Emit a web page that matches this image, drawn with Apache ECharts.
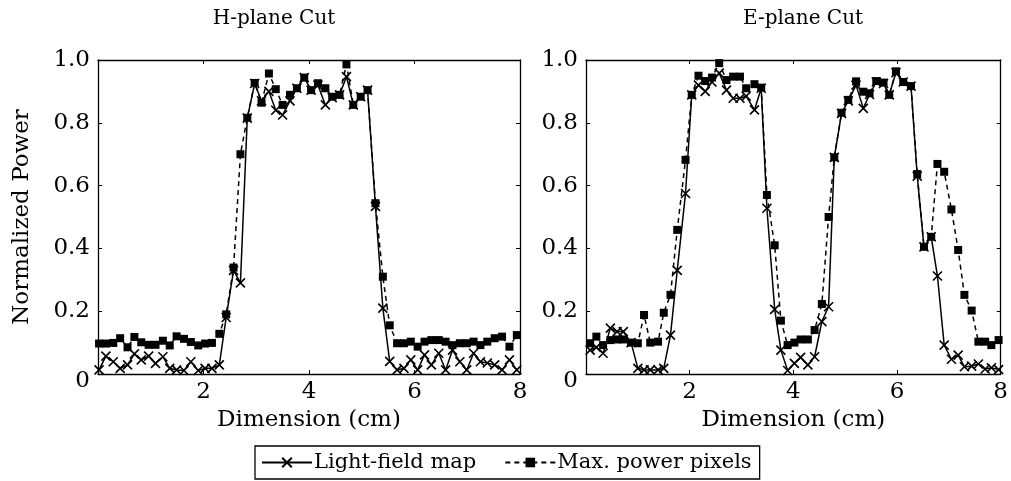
<!DOCTYPE html>
<html>
<head>
<meta charset="utf-8">
<script src="https://cdn.jsdelivr.net/npm/echarts@6/dist/echarts.min.js"></script>
<style>
  html, body { margin: 0; padding: 0; background: #fff; }
  #chart { width: 1011px; height: 481px; }
</style>
</head>
<body>
<div id="chart"></div>
<script>
// Sample positions along the cut (cm)
const hPlaneX = [0.02, 0.15, 0.29, 0.42, 0.56, 0.69, 0.82, 0.96, 1.09, 1.23,
  1.36, 1.49, 1.63, 1.76, 1.90, 2.03, 2.16, 2.30, 2.43, 2.57,
  2.70, 2.83, 2.97, 3.10, 3.24, 3.37, 3.50, 3.64, 3.77, 3.91,
  4.04, 4.17, 4.31, 4.44, 4.58, 4.71, 4.84, 4.98, 5.11, 5.26,
  5.40, 5.53, 5.67, 5.80, 5.93, 6.06, 6.19, 6.32, 6.46, 6.59,
  6.72, 6.86, 6.99, 7.12, 7.25, 7.38, 7.52, 7.66, 7.80, 7.94];

// H-plane: light-field map (solid, x markers)
const hPlaneLight = [0.013, 0.057, 0.039, 0.018, 0.029, 0.064, 0.045, 0.057, 0.034, 0.055,
  0.018, 0.013, 0.011, 0.039, 0.011, 0.018, 0.018, 0.029, 0.18, 0.33,
  0.29, 0.815, 0.925, 0.87, 0.90, 0.84, 0.825, 0.87, 0.91, 0.944,
  0.904, 0.92, 0.857, 0.88, 0.889, 0.947, 0.857, 0.883, 0.904, 0.534,
  0.21, 0.04, 0.013, 0.018, 0.045, 0.013, 0.061, 0.029, 0.066, 0.013,
  0.076, 0.039, 0.013, 0.066, 0.039, 0.035, 0.029, 0.013, 0.045, 0.013];

// H-plane: max. power pixels (dashed, square markers)
const hPlaneMax = [0.097, 0.097, 0.099, 0.114, 0.085, 0.118, 0.101, 0.093, 0.093, 0.106,
  0.091, 0.120, 0.112, 0.102, 0.091, 0.097, 0.099, 0.128, 0.19, 0.339,
  0.70, 0.816, 0.927, 0.864, 0.957, 0.907, 0.857, 0.889, 0.91, 0.944,
  0.904, 0.926, 0.91, 0.883, 0.889, 0.986, 0.857, 0.883, 0.904, 0.544,
  0.31, 0.155, 0.098, 0.098, 0.103, 0.087, 0.103, 0.108, 0.108, 0.103,
  0.092, 0.098, 0.098, 0.103, 0.092, 0.103, 0.114, 0.119, 0.087, 0.124];

const ePlaneX = [0.08, 0.20, 0.33, 0.47, 0.60, 0.72, 0.87, 1.00, 1.12, 1.24,
  1.39, 1.50, 1.63, 1.76, 1.92, 2.04, 2.17, 2.30, 2.43, 2.57,
  2.71, 2.84, 2.97, 3.09, 3.25, 3.38, 3.49, 3.64, 3.76, 3.89,
  4.02, 4.14, 4.28, 4.41, 4.55, 4.68, 4.79, 4.93, 5.06, 5.21,
  5.35, 5.47, 5.60, 5.74, 5.85, 5.98, 6.12, 6.27, 6.39, 6.52,
  6.66, 6.78, 6.91, 7.05, 7.18, 7.30, 7.44, 7.57, 7.70, 7.82, 7.96];

// E-plane: light-field map
const ePlaneLight = [0.076, 0.085, 0.066, 0.146, 0.135, 0.135, 0.10, 0.018, 0.013, 0.013,
  0.013, 0.018, 0.124, 0.33, 0.575, 0.889, 0.92, 0.90, 0.93, 0.958,
  0.904, 0.878, 0.878, 0.885, 0.841, 0.91, 0.528, 0.206, 0.076, 0.011,
  0.034, 0.053, 0.029, 0.055, 0.167, 0.214, 0.69, 0.83, 0.87, 0.92,
  0.846, 0.89, 0.93, 0.925, 0.889, 0.96, 0.93, 0.917, 0.63, 0.405,
  0.437, 0.312, 0.092, 0.047, 0.06, 0.023, 0.025, 0.032, 0.016, 0.02, 0.014];

// E-plane: max. power pixels
const ePlaneMax = [0.098, 0.119, 0.092, 0.108, 0.11, 0.11, 0.10, 0.098, 0.188, 0.10,
  0.103, 0.195, 0.252, 0.459, 0.682, 0.889, 0.95, 0.933, 0.944, 0.99,
  0.936, 0.947, 0.947, 0.91, 0.923, 0.912, 0.57, 0.41, 0.17, 0.092,
  0.10, 0.11, 0.11, 0.14, 0.223, 0.50, 0.69, 0.832, 0.873, 0.932,
  0.899, 0.894, 0.933, 0.928, 0.889, 0.964, 0.93, 0.917, 0.637, 0.405,
  0.437, 0.669, 0.644, 0.524, 0.395, 0.252, 0.202, 0.103, 0.103, 0.092, 0.108];

const xTickLabels = ['', '2', '4', '6', '8'];
const yTickLabels = ['0', '0.2', '0.4', '0.6', '0.8', '1.0'];
const seriesNames = ['Light-field map', 'Max. power pixels'];
const panelTitles = ['H-plane Cut', 'E-plane Cut'];

const FONT = '"DejaVu Serif", "Liberation Serif", serif';
const INK = '#000';
const CROSS = 'path://M0,0L10,10M10,0L0,10';

const chart = echarts.init(document.getElementById('chart'), null, { renderer: 'canvas' });

const pairs = (xs, ys) => xs.map((x, i) => [x, ys[i]]);

function xAxes(g) {
  const base = {
    gridIndex: g, type: 'value', min: 0, max: 8, interval: 2,
    axisLine: { show: true, onZero: false, lineStyle: { color: INK, width: 1.3 } },
    axisTick: { show: true, inside: true, length: 4, lineStyle: { color: INK, width: 1 } },
    splitLine: { show: false }
  };
  return [
    Object.assign({}, base, {
      position: 'bottom',
      axisLabel: {
        color: INK, fontFamily: FONT, fontSize: 23, margin: 7,
        formatter: v => xTickLabels[Math.round(v / 2)]
      },
      name: 'Dimension (cm)', nameLocation: 'middle', nameGap: 30,
      nameTextStyle: { color: INK, fontFamily: FONT, fontSize: 23 }
    }),
    Object.assign({}, base, { position: 'top', axisLabel: { show: false } })
  ];
}

function yAxes(g, withName) {
  const base = {
    gridIndex: g, type: 'value', min: 0, max: 1, interval: 0.2,
    axisLine: { show: true, onZero: false, lineStyle: { color: INK, width: 1.3 } },
    axisTick: { show: true, inside: true, length: 4, lineStyle: { color: INK, width: 1 } },
    splitLine: { show: false }
  };
  const left = Object.assign({}, base, {
    position: 'left',
    axisLabel: {
      color: INK, fontFamily: FONT, fontSize: 23, margin: 8,
      formatter: v => {
        const i = Math.round(v / 0.2);
        return i === 0 ? '{z|' + yTickLabels[0] + '}' : yTickLabels[i];
      },
      rich: { z: { fontFamily: FONT, fontSize: 23, color: INK, padding: [14, 0, 0, 0] } }
    }
  });
  if (withName) {
    Object.assign(left, {
      name: 'Normalized Power', nameLocation: 'middle', nameGap: 64,
      nameTextStyle: { color: INK, fontFamily: FONT, fontSize: 23 }
    });
  }
  return [left, Object.assign({}, base, { position: 'right', axisLabel: { show: false } })];
}

function lightSeries(xi, yi, data) {
  return {
    name: seriesNames[0], type: 'line', xAxisIndex: xi, yAxisIndex: yi,
    data: data, symbol: CROSS, symbolSize: 9, showAllSymbol: true,
    lineStyle: { color: INK, width: 1.5, type: 'solid' },
    itemStyle: { color: 'rgba(0,0,0,0)', borderColor: INK, borderWidth: 1.6 },
    emphasis: { disabled: true }, animation: false, z: 3
  };
}

function maxSeries(xi, yi, data) {
  return {
    name: seriesNames[1], type: 'line', xAxisIndex: xi, yAxisIndex: yi,
    data: data, symbol: 'rect', symbolSize: 8, showAllSymbol: true,
    lineStyle: { color: INK, width: 1.5, type: [5, 4] },
    itemStyle: { color: INK },
    emphasis: { disabled: true }, animation: false, z: 2
  };
}

const option = {
  backgroundColor: '#fff',
  animation: false,
  grid: [
    { left: 98, top: 60, width: 422, height: 314 },
    { left: 586, top: 60, width: 420, height: 314 }
  ],
  xAxis: [...xAxes(0), ...xAxes(1)],
  yAxis: [...yAxes(0, true), ...yAxes(1, false)],
  legend: {
    data: seriesNames,
    left: 255, top: 446,
    itemWidth: 50, itemHeight: 12, itemGap: 28,
    padding: [6, 8, 6, 6],
    borderColor: INK, borderWidth: 1.3,
    textStyle: { color: INK, fontFamily: FONT, fontSize: 21, padding: [0, 0, 0, -3] },
    selectedMode: false
  },
  graphic: [
    { type: 'text', x: 274, y: 19, style: { text: panelTitles[0], fill: INK, font: '20px ' + FONT, align: 'center', verticalAlign: 'middle' } },
    { type: 'text', x: 803, y: 19, style: { text: panelTitles[1], fill: INK, font: '20px ' + FONT, align: 'center', verticalAlign: 'middle' } }
  ],
  series: [
    lightSeries(0, 0, pairs(hPlaneX, hPlaneLight)),
    maxSeries(0, 0, pairs(hPlaneX, hPlaneMax)),
    lightSeries(2, 2, pairs(ePlaneX, ePlaneLight)),
    maxSeries(2, 2, pairs(ePlaneX, ePlaneMax))
  ]
};

chart.setOption(option);
</script>
</body>
</html>
